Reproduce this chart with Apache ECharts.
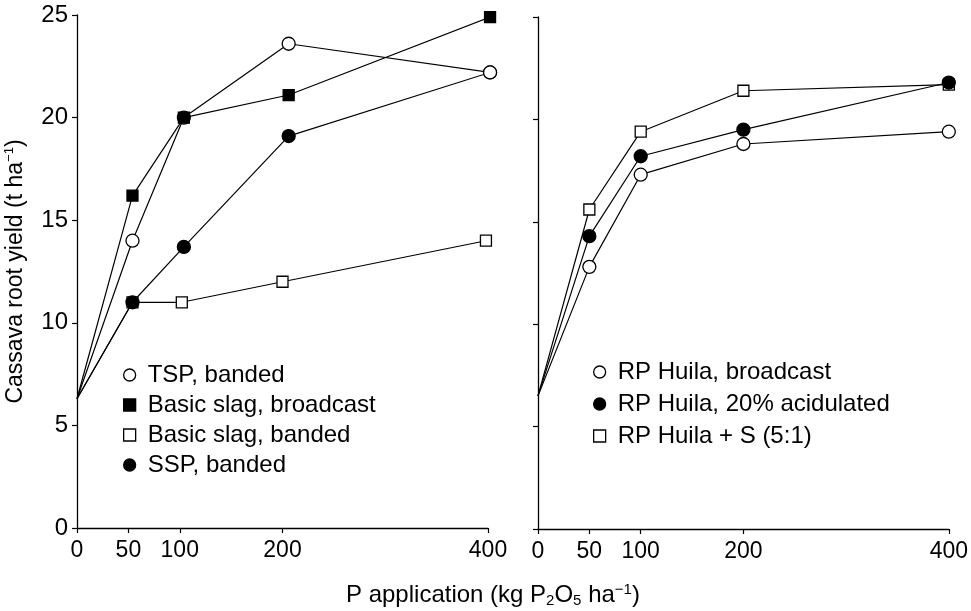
<!DOCTYPE html>
<html>
<head>
<meta charset="utf-8">
<script src="https://cdn.jsdelivr.net/npm/echarts@6/dist/echarts.min.js"></script>
<style>
  html, body { margin: 0; padding: 0; background: #fff; }
  #chart { width: 971px; height: 611px; }
</style>
</head>
<body>
<div id="chart"></div>
<script>
// x tick labels (kg P2O5/ha)
const xTicks = [0, 50, 100, 200, 400];

// left panel
const xLeft = [0, 54, 104, 206, 402];
const xLeftBanded = [0, 54, 102, 200, 398];
const tspBanded = [6.3, 14.0, 20.0, 23.6, 22.2];
const slagBroadcast = [6.3, 16.2, 20.0, 21.1, 24.9];
const slagBanded = [6.3, 11.0, 11.0, 12.0, 14.0];
const sspBanded = [6.3, 11.0, 13.7, 19.1, 22.2];

// right panel
const xRight = [0, 50, 100, 200, 400];
const rpBroadcast = [6.5, 12.8, 17.3, 18.8, 19.4];
const rpAcidulated = [6.5, 14.3, 18.2, 19.5, 21.8];
const rpSulfur = [6.5, 15.6, 19.4, 21.4, 21.7];

const FONT = 'Liberation Sans';

function pairs(xs, ys) {
    // no marker at the origin, lines just meet there
    return ys.map((y, i) => i === 0 ? { value: [xs[i], y], symbolSize: 0 } : [xs[i], y]);
}

function mkSeries(name, xs, ys, idx, symbol, filled, size) {
    return {
        name: name,
        type: 'line',
        xAxisIndex: idx,
        yAxisIndex: idx,
        data: pairs(xs, ys),
        symbol: symbol,
        symbolSize: size,
        showAllSymbol: true,
        clip: false,
        lineStyle: { color: '#000', width: 1.2 },
        itemStyle: {
            color: filled ? '#000' : '#fff',
            borderColor: '#000',
            borderWidth: 1.3
        },
        emphasis: { disabled: true },
        animation: false
    };
}

function legendItem(name, icon, filled) {
    return {
        name: name,
        icon: icon,
        itemStyle: { color: filled ? '#000' : '#fff', borderColor: '#000', borderWidth: 1.3 }
    };
}

const axisLine = { show: true, lineStyle: { color: '#000', width: 1.3 } };

function mkX(idx) {
    return {
        gridIndex: idx,
        type: 'value',
        min: 0,
        max: 400,
        axisLine: axisLine,
        axisTick: { show: true, customValues: xTicks, length: 5, lineStyle: { color: '#000', width: 1.2 } },
        axisLabel: { customValues: xTicks, margin: 11, color: '#000', fontSize: 23, fontFamily: FONT },
        splitLine: { show: false }
    };
}

function mkY(idx, showLabels) {
    const y = {
        gridIndex: idx,
        type: 'value',
        min: 0,
        max: 25,
        interval: 5,
        axisLine: axisLine,
        axisTick: { show: true, length: 5, lineStyle: { color: '#000', width: 1.2 } },
        axisLabel: { show: showLabels, margin: 9, color: '#000', fontSize: 24, fontFamily: FONT },
        splitLine: { show: false }
    };
    if (showLabels) {
        y.name = '{a|Cassava root yield (t ha}{s|−1}{a|)}';
        y.nameLocation = 'middle';
        y.nameGap = 48;
        y.nameTextStyle = {
            rich: {
                a: { fontSize: 23, fontFamily: FONT, color: '#000', lineHeight: 26 },
                s: { fontSize: 13, fontFamily: FONT, color: '#000', verticalAlign: 'top', lineHeight: 26 }
            }
        };
    }
    return y;
}

const chart = echarts.init(document.getElementById('chart'));
const option = {
    backgroundColor: '#fff',
    animation: false,
    title: {
        text: '{a|P application (kg P}{b|2}{a|O}{b|5}{a| ha}{s|−1}{a|)}',
        left: 346,
        top: 582,
        padding: 0,
        textStyle: {
            fontWeight: 'normal',
            rich: {
                a: { fontSize: 24, fontFamily: FONT, fontWeight: 'normal', color: '#000', lineHeight: 26 },
                b: { fontSize: 15, fontFamily: FONT, fontWeight: 'normal', color: '#000', verticalAlign: 'bottom', lineHeight: 26 },
                s: { fontSize: 15, fontFamily: FONT, fontWeight: 'normal', color: '#000', verticalAlign: 'top', lineHeight: 26 }
            }
        }
    },
    grid: [
        { left: 77, top: 15, width: 411, height: 513 },
        { left: 538, top: 17, width: 412, height: 512 }
    ],
    xAxis: [mkX(0), mkX(1)],
    yAxis: [mkY(0, true), mkY(1, false)],
    legend: [
        {
            orient: 'vertical',
            left: 123,
            top: 363,
            padding: 0,
            itemWidth: 12,
            itemHeight: 12,
            itemGap: 6,
            selectedMode: false,
            textStyle: { fontSize: 24, fontFamily: FONT, color: '#000', lineHeight: 24, padding: [0, 0, 0, 7] },
            data: [
                legendItem('TSP, banded', 'circle', false),
                legendItem('Basic slag, broadcast', 'rect', true),
                legendItem('Basic slag, banded', 'rect', false),
                legendItem('SSP, banded', 'circle', true)
            ]
        },
        {
            orient: 'vertical',
            left: 593,
            top: 360,
            padding: 0,
            itemWidth: 12,
            itemHeight: 12,
            itemGap: 8,
            selectedMode: false,
            textStyle: { fontSize: 24, fontFamily: FONT, color: '#000', lineHeight: 24, padding: [0, 0, 0, 7] },
            data: [
                legendItem('RP Huila, broadcast', 'circle', false),
                legendItem('RP Huila, 20% acidulated', 'circle', true),
                legendItem('RP Huila + S (5:1)', 'rect', false)
            ]
        }
    ],
    series: [
        // drawing order keeps the hidden points hidden as in the figure
        mkSeries('Basic slag, banded', xLeftBanded, slagBanded, 0, 'rect', false, 11),
        mkSeries('SSP, banded', xLeft, sspBanded, 0, 'circle', true, 13),
        mkSeries('TSP, banded', xLeft, tspBanded, 0, 'circle', false, 13),
        mkSeries('Basic slag, broadcast', xLeft, slagBroadcast, 0, 'rect', true, 11),
        mkSeries('RP Huila, broadcast', xRight, rpBroadcast, 1, 'circle', false, 13),
        mkSeries('RP Huila + S (5:1)', xRight, rpSulfur, 1, 'rect', false, 11),
        mkSeries('RP Huila, 20% acidulated', xRight, rpAcidulated, 1, 'circle', true, 13)
    ]
};
option && chart.setOption(option);
</script>
</body>
</html>
